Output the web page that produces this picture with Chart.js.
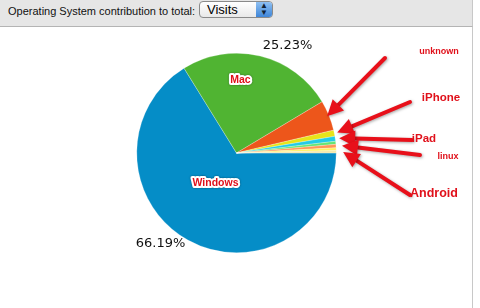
<!DOCTYPE html>
<html lang="en">
<head>
  <meta charset="UTF-8" />
  <title>Operating System contribution</title>
  <script src="https://cdn.jsdelivr.net/npm/chart.js"></script>
  <style>
    body { margin: 0; width: 480px; height: 308px; background: #fff; font-family: "Liberation Sans", Arial, sans-serif; overflow: hidden; position: relative; }
    #bar { position: absolute; left: 0; top: 0; width: 472px; height: 26px; background: #e6e6e6; border-bottom: 1px solid #b4b4b4; border-right: 1px solid #c8c8c8; }
    #bar span { position: absolute; left: 8px; top: 5px; font-size: 11px; color: #111; white-space: nowrap; }
    #sel { position: absolute; left: 199px; top: 1px; width: 72px; height: 15px; border: 1px solid #8a8a8a; border-radius: 4px;
           background: linear-gradient(#ffffff, #e9e9e9); font-size: 13px; color: #000; }
    #sel b { position: absolute; left: 7px; top: 0px; font-weight: normal; }
    #sel i { position: absolute; right: 0; top: 0; width: 16px; height: 15px; border-radius: 0 3px 3px 0;
             background: linear-gradient(#8fc0f2, #3f86d8); color: #123; font-style: normal; font-size: 8px; line-height: 7px; text-align: center; }
    #panel { position: absolute; left: 0; top: 27px; width: 472px; height: 281px; border-right: 1px solid #c8c8c8; }
    canvas { position: absolute; left: 0; top: 0; }
  </style>
</head>
<body>
  <div id="bar"><span>Operating System contribution to total:</span>
    <div id="sel"><b>Visits</b><i>&#9650;<br>&#9660;</i></div>
  </div>
  <div id="panel"><canvas id="osChart" width="473" height="281"></canvas></div>

  <script>
    const osNames = ["Windows", "Mac", "unknown", "iPhone", "iPad", "iPod", "linux", "Android", "Other"];
    const visitShare = [66.19, 25.23, 4.9, 1.0, 0.8, 0.5, 0.55, 0.45, 0.38];
    const sliceColors = ["#058DC7", "#50B432", "#ED561B", "#E8E419", "#24CBE5", "#64E572", "#FF9655", "#FFF263", "#F3E7A8"];

    // annotations scribbled on top of the screenshot
    const notePlugin = {
      id: "notes",
      afterDatasetsDraw(chart) {
        const ctx = chart.ctx;
        const arcs = chart.getDatasetMeta(0).data;
        const total = visitShare.reduce((a, b) => a + b, 0);
        const cx = arcs[0].x, cy = arcs[0].y;

        // percent labels
        ctx.save();
        ctx.font = "13px 'DejaVu Sans'";
        ctx.fillStyle = "#111";
        ctx.textAlign = "center";
        ctx.textBaseline = "middle";
        ctx.fillText((visitShare[1] / total * 100).toFixed(2) + "%", cx + 51, cy - 107);
        ctx.fillText((visitShare[0] / total * 100).toFixed(2) + "%", cx - 76, cy + 91);

        // slice labels with white halo
        ctx.font = "bold 10.5px 'Liberation Sans'";
        ctx.lineJoin = "round";
        [[0, -21, 30], [1, 4, -73]].forEach(([i, dx, dy]) => {
          ctx.shadowColor = "rgba(0,0,0,0.45)";
          ctx.shadowBlur = 2;
          ctx.lineWidth = 4;
          ctx.strokeStyle = "#fff";
          ctx.strokeText(osNames[i], cx + dx, cy + dy);
          ctx.shadowBlur = 0;
          ctx.shadowColor = "transparent";
          ctx.fillStyle = "#e0101a";
          ctx.fillText(osNames[i], cx + dx, cy + dy);
        });

        // arrows from the notes to the small slices
        const notes = [
          { i: 2, tx: 385, ty: 31, lx: 439, ly: 25, size: 9, gap: -2 },
          { i: 3, tx: 410, ty: 75, lx: 441, ly: 71, size: 11.5, gap: 3 },
          { i: 4, tx: 412, ty: 113, lx: 424, ly: 112, size: 11.5, gap: 4 },
          { i: 6, tx: 420, ty: 128, lx: 448, ly: 130, size: 9, gap: 6 },
          { i: 7, tx: 410, ty: 168, lx: 434, ly: 167, size: 12.5, gap: 7 }
        ];
        notes.forEach(n => {
          const a = arcs[n.i];
          const mid = (a.startAngle + a.endAngle) / 2;
          const r = a.outerRadius + n.gap;
          const hx = cx + Math.cos(mid) * r, hy = cy + Math.sin(mid) * r + (n.i === 7 ? 3 : 0);
          const ang = Math.atan2(hy - n.ty, hx - n.tx);
          const headLen = 16, headW = 8;
          const bx = hx - Math.cos(ang) * headLen, by = hy - Math.sin(ang) * headLen;
          ctx.shadowColor = "rgba(0,0,0,0.35)";
          ctx.shadowBlur = 3;
          ctx.shadowOffsetX = 1;
          ctx.shadowOffsetY = 1;
          ctx.strokeStyle = "#e8101a";
          ctx.fillStyle = "#e8101a";
          ctx.lineWidth = 4;
          ctx.lineCap = "round";
          ctx.beginPath();
          ctx.moveTo(n.tx, n.ty);
          ctx.lineTo(bx, by);
          ctx.stroke();
          ctx.beginPath();
          ctx.moveTo(hx, hy);
          ctx.lineTo(bx + Math.sin(ang) * headW, by - Math.cos(ang) * headW);
          ctx.lineTo(bx - Math.sin(ang) * headW, by + Math.cos(ang) * headW);
          ctx.closePath();
          ctx.fill();
          ctx.shadowColor = "transparent";
          ctx.shadowBlur = 0;
          ctx.shadowOffsetX = 0;
          ctx.shadowOffsetY = 0;
          ctx.font = "bold " + n.size + "px 'Liberation Sans'";
          ctx.fillStyle = "#e0101a";
          ctx.fillText(osNames[n.i], n.lx, n.ly);
        });
        ctx.restore();
      }
    };

    new Chart(document.getElementById("osChart"), {
      type: "pie",
      data: {
        labels: osNames,
        datasets: [{
          data: visitShare,
          backgroundColor: sliceColors,
          borderColor: "rgba(255,255,255,0.5)",
          borderWidth: 0.5
        }]
      },
      options: {
        responsive: false,
        animation: false,
        rotation: 90,
        layout: { padding: { top: 26, bottom: 55, left: 0, right: 0 } },
        plugins: { legend: { display: false }, tooltip: { enabled: false } },
        events: []
      },
      plugins: [notePlugin]
    });
  </script>
</body>
</html>
